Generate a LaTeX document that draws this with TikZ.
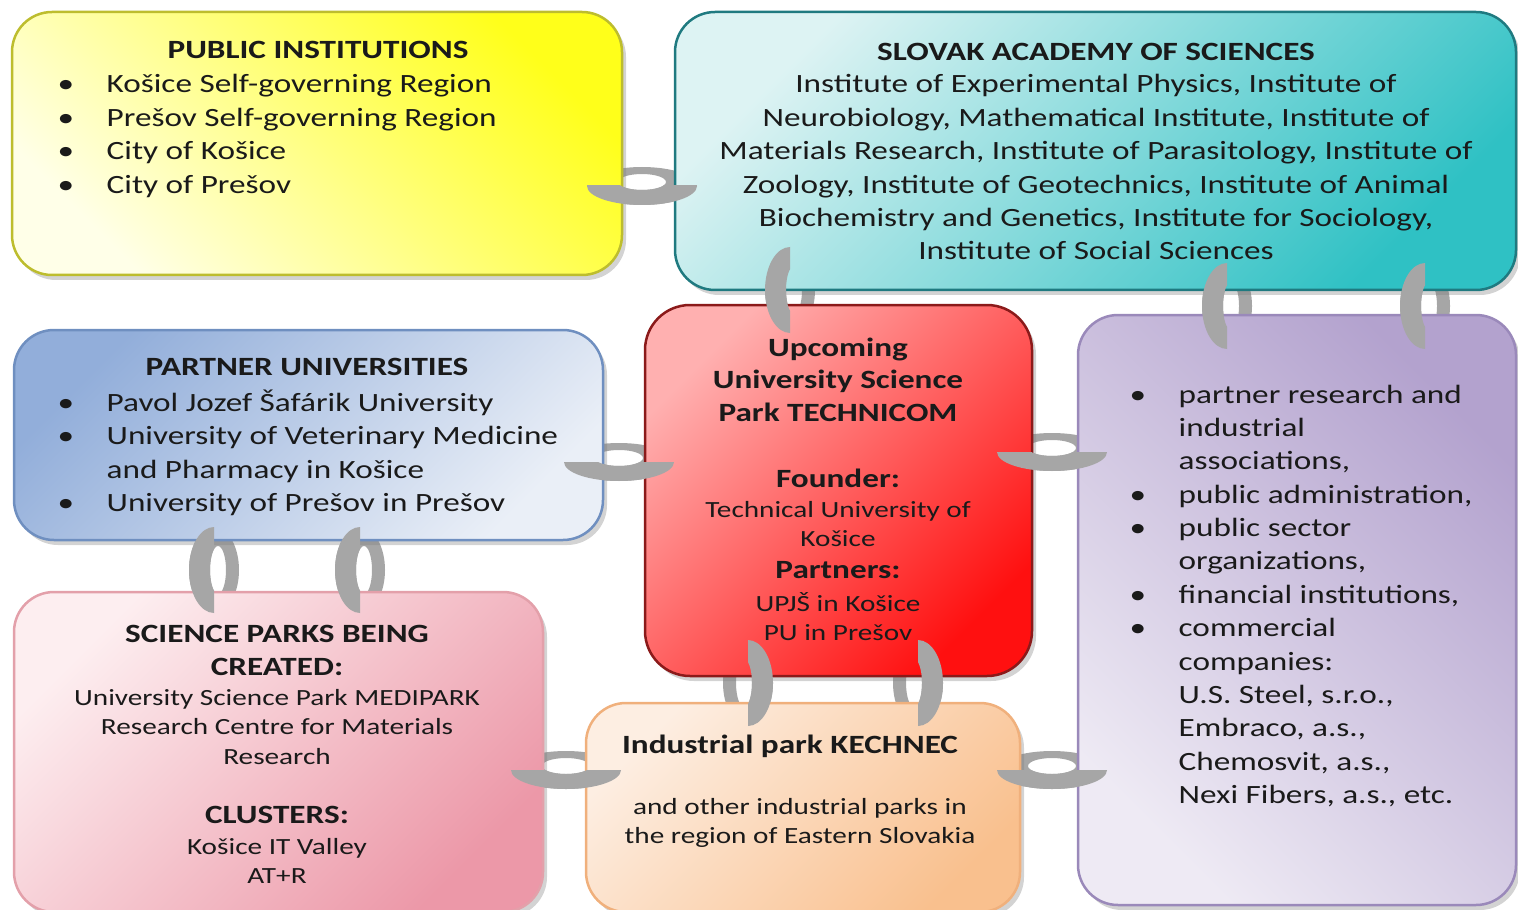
\documentclass[tikz,border=0pt]{standalone}
\usepackage{fontspec}
\setmainfont[FakeStretch=1.26]{Carlito}
\usetikzlibrary{shadows,backgrounds}

\definecolor{pubpale}{HTML}{FFFFE8}
\definecolor{pubstrong}{HTML}{FFFF1A}
\definecolor{publine}{HTML}{BDBD2E}
\definecolor{saspale}{HTML}{DDF3F3}
\definecolor{sasstrong}{HTML}{2FC1C4}
\definecolor{sasline}{HTML}{1F7A80}
\definecolor{unistrong}{HTML}{92AEDA}
\definecolor{unipale}{HTML}{EAEFF7}
\definecolor{uniline}{HTML}{6F8FC0}
\definecolor{parkpale}{HTML}{FFB0B0}
\definecolor{parkstrong}{HTML}{FF1010}
\definecolor{parkline}{HTML}{8B1A1A}
\definecolor{otherpale}{HTML}{EEEAF4}
\definecolor{otherstrong}{HTML}{B3A2CE}
\definecolor{otherline}{HTML}{9A89BA}
\definecolor{spkpale}{HTML}{FDEEF0}
\definecolor{spkstrong}{HTML}{EC98A8}
\definecolor{spkline}{HTML}{E3A0AA}
\definecolor{indpale}{HTML}{FDEEE2}
\definecolor{indstrong}{HTML}{F9C08E}
\definecolor{indline}{HTML}{F0B07C}
\definecolor{linkgray}{HTML}{A6A6A6}
\definecolor{txtcol}{HTML}{1A1A1A}

\newcommand\itembul{\makebox[4.9mm][l]{\textbullet}}
\newcommand\contind{\hspace*{4.9mm}}

\tikzset{
  box/.style={draw, line width=0.25mm, rounded corners=4mm, inner sep=0pt,
    drop shadow={shadow xshift=0.4mm, shadow yshift=-0.5mm, opacity=0.35}},
  head/.style={font=\fontsize{7.5}{9.3}\selectfont\bfseries, text=txtcol,
    inner sep=0pt, align=center, anchor=north},
  body/.style={font=\fontsize{7.5}{9.5}\selectfont, text=txtcol, inner sep=0pt},
  note/.style={font=\fontsize{6.6}{8.3}\selectfont, text=txtcol,
    inner sep=0pt, align=center, anchor=north},
  % chain links: whole ring behind, front half on top
  hback/.pic={\fill[linkgray, even odd rule] (0,0) ellipse [x radius=55, y radius=19]
    (0,4) ellipse [x radius=24, y radius=8];},
  hfront/.pic={\begin{scope}
    \clip (-60,0) rectangle (60,-25);
    \fill[linkgray, even odd rule] (0,0) ellipse [x radius=55, y radius=19]
      (0,4) ellipse [x radius=24, y radius=8];
    \end{scope}},
  vback/.pic={\fill[linkgray, even odd rule] (0,0) ellipse [x radius=25, y radius=43]
    (4,0) ellipse [x radius=8, y radius=24];},
  vfront/.pic={\begin{scope}
    \clip (-30,-48) rectangle (0,48);
    \fill[linkgray, even odd rule] (0,0) ellipse [x radius=25, y radius=43]
      (4,0) ellipse [x radius=8, y radius=24];
    \end{scope}},
}

\begin{document}
\begin{tikzpicture}[x=0.1mm, y=0.1mm]
  \useasboundingbox (0,0) rectangle (1518,-909);

  % boxes
  \node[box, draw=publine, top color=pubpale, bottom color=pubstrong, shading angle=135,
    minimum width=61mm, minimum height=26.3mm] (pub) at (317,-143.5) {};
  \node[box, draw=sasline, top color=saspale, bottom color=sasstrong, shading angle=45,
    minimum width=84.1mm, minimum height=27.8mm] (sas) at (1095.5,-151) {};
  \node[box, draw=uniline, top color=unistrong, bottom color=unipale, shading angle=45,
    minimum width=58.9mm, minimum height=21mm] (uni) at (308.5,-435) {};
  \node[box, draw=parkline, top color=parkpale, bottom color=parkstrong, shading angle=45,
    rounded corners=4.5mm, minimum width=38.7mm, minimum height=37.1mm] (park) at (838.5,-490.5) {};
  \node[box, draw=otherline, top color=otherstrong, bottom color=otherpale, shading angle=-45,
    minimum width=43.8mm, minimum height=59mm] (other) at (1297,-610) {};
  \node[box, draw=spkline, top color=spkpale, bottom color=spkstrong, shading angle=45,
    minimum width=52.9mm, minimum height=32mm] (spk) at (278.5,-752) {};
  \node[box, draw=indline, top color=indpale, bottom color=indstrong, shading angle=45,
    minimum width=43.4mm, minimum height=20.9mm] (ind) at (803,-807.5) {};

  % link points
  \coordinate (pubsas) at (642,-186);
  \coordinate (unipark) at (619,-462);
  \coordinate (parkother) at (1052,-452);
  \coordinate (spkind) at (566,-770);
  \coordinate (indother) at (1052,-770);
  \coordinate (saspark) at (790,-290);
  \coordinate (sasotherA) at (1227,-306);
  \coordinate (sasotherB) at (1425,-306);
  \coordinate (unispkA) at (214,-570);
  \coordinate (unispkB) at (360,-570);
  \coordinate (parkindA) at (748,-683);
  \coordinate (parkindB) at (918,-683);

  \begin{scope}[on background layer]
    \foreach \p in {pubsas,unipark,parkother,spkind,indother}
      \pic at (\p) {hback};
    \foreach \p in {saspark,sasotherA,sasotherB,unispkA,unispkB}
      \pic at (\p) {vback};
    \foreach \p in {parkindA,parkindB}
      \pic[xscale=-1] at (\p) {vback};
  \end{scope}
  \foreach \p in {pubsas,unipark,parkother,spkind,indother}
    \pic at (\p) {hfront};
  \foreach \p in {saspark,sasotherA,sasotherB,unispkA,unispkB}
    \pic at (\p) {vfront};
  \foreach \p in {parkindA,parkindB}
    \pic[xscale=-1] at (\p) {vfront};

  % texts
  \node[head] (pubhead) at (318,-41) {PUBLIC INSTITUTIONS};
  \node[body, anchor=north west, align=left] (publist) at (57,-74)
    {\itembul Košice Self-governing Region\\ \itembul Prešov Self-governing Region\\
     \itembul City of Košice\\ \itembul City of Prešov};

  \node[head] (sashead) at (1096,-43) {SLOVAK ACADEMY OF SCIENCES};
  \node[body, anchor=north, align=center] (saslist) at (1096,-74)
    {Institute of Experimental Physics, Institute of\\
     Neurobiology, Mathematical Institute, Institute of\\
     Materials Research, Institute of Parasitology, Institute of\\
     Zoology, Institute of Geotechnics, Institute of Animal\\
     Biochemistry and Genetics, Institute for Sociology,\\
     Institute of Social Sciences};

  \node[head] (unihead) at (307,-358) {PARTNER UNIVERSITIES};
  \node[body, anchor=north west, align=left] (unilist) at (57,-389)
    {\itembul Pavol Jozef Šafárik University\\ \itembul University of Veterinary Medicine\\
     \contind and Pharmacy in Košice\\ \itembul University of Prešov in Prešov};

  \node[head] (parkhead) at (838,-337) {Upcoming\\University Science\\Park TECHNICOM};
  \node[head] (founderhead) at (838,-468) {Founder:};
  \node[note] (founder) at (838,-501) {Technical University of\\Košice};
  \node[head] (partnerhead) at (838,-561) {Partners:};
  \node[note] (partners) at (838,-592) {UPJŠ in Košice\\PU in Prešov};

  \node[body, anchor=north west, align=left] (otherlist) at (1129,-384)
    {\itembul partner research and\\ \contind industrial\\ \contind associations,\\
     \itembul public administration,\\ \itembul public sector\\ \contind organizations,\\
     \itembul financial institutions,\\ \itembul commercial\\ \contind companies:\\
     \contind U.S. Steel, s.r.o.,\\ \contind Embraco, a.s.,\\ \contind Chemosvit, a.s.,\\
     \contind Nexi Fibers, a.s., etc.};

  \node[head] (spkhead) at (277,-625) {SCIENCE PARKS BEING\\CREATED:};
  \node[note] (spklist) at (277,-689)
    {University Science Park MEDIPARK\\Research Centre for Materials\\Research};
  \node[head] (clushead) at (277,-806) {CLUSTERS:};
  \node[note] (cluslist) at (277,-838) {Košice IT Valley\\AT+R};

  \node[head] (indhead) at (790,-734) {Industrial park KECHNEC};
  \node[note] (indnote) at (800,-798) {and other industrial parks in\\the region of Eastern Slovakia};
\end{tikzpicture}
\end{document}
